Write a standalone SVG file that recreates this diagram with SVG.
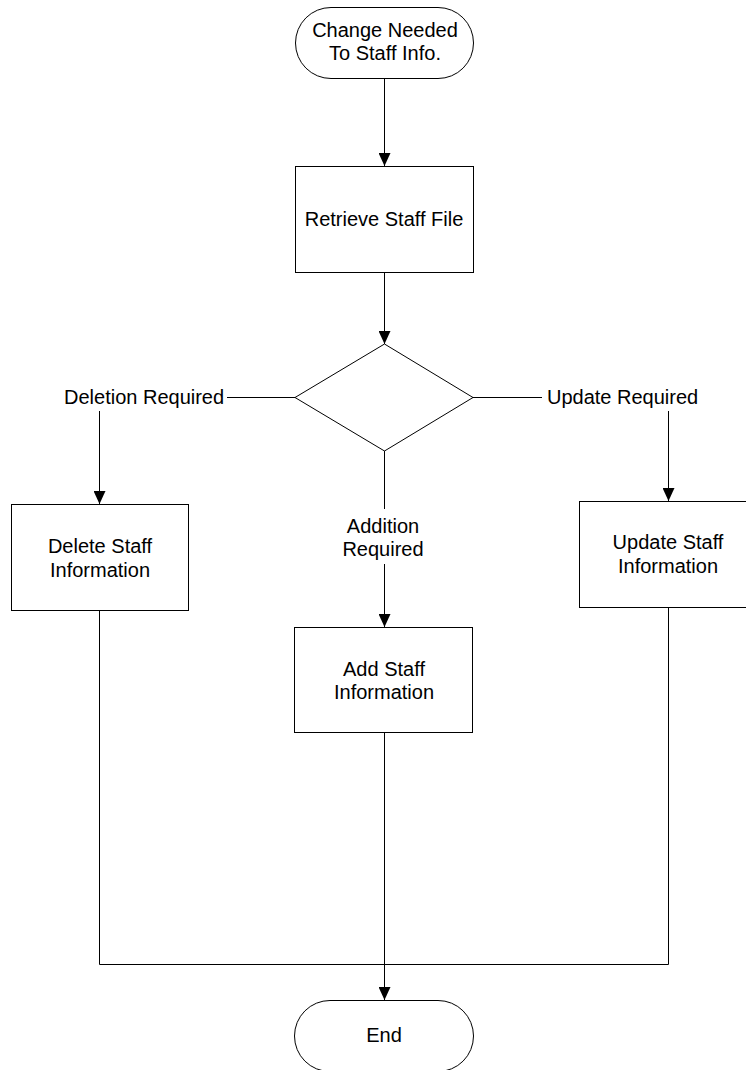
<svg xmlns="http://www.w3.org/2000/svg" width="746" height="1070" viewBox="0 0 746 1070">
  <style>
    .shape { fill: #ffffff; stroke: #000000; stroke-width: 1; }
    .line { fill: none; stroke: #000000; stroke-width: 1; }
    .label { font-family: "Liberation Sans", Arial, sans-serif; font-size: 20px; fill: #000000; text-anchor: middle; }
    .side { font-family: "Liberation Sans", Arial, sans-serif; font-size: 20px; fill: #000000; }
  </style>
  <defs>
    <!-- solid triangular arrowhead, tip at the end of the line -->
    <marker id="arrow" viewBox="0 0 13 12" refX="13" refY="6" markerWidth="13" markerHeight="12" markerUnits="userSpaceOnUse" orient="auto">
      <path d="M0,0 L13,6 L0,12 Z" fill="#000000"/>
    </marker>
  </defs>
  <rect width="746" height="1070" fill="#ffffff"/>

  <!-- connectors and branch labels -->
  <g id="connectors">
    <path class="line" d="M384.5,78 V166" marker-end="url(#arrow)"/>
    <path class="line" d="M384.5,272 V344" marker-end="url(#arrow)"/>
    <path class="line" d="M295,397.5 H227"/>
    <path class="line" d="M99.5,411 V504" marker-end="url(#arrow)"/>
    <path class="line" d="M472,397.5 H542"/>
    <path class="line" d="M668.5,411 V501" marker-end="url(#arrow)"/>
    <path class="line" d="M384.5,450 V509"/>
    <path class="line" d="M384.5,564 V627" marker-end="url(#arrow)"/>
    <path class="line" d="M99.5,610 V964.5 H668.5 V607"/>
    <path class="line" d="M384.5,732 V1000" marker-end="url(#arrow)"/>
    <text class="side" x="64" y="404">Deletion Required</text>
    <text class="side" x="547" y="404">Update Required</text>
    <text class="label" x="383" y="533">Addition</text>
    <text class="label" x="383" y="556">Required</text>
  </g>

  <g id="start">
    <rect class="shape" x="295.5" y="7.5" width="178" height="71" rx="35.5" ry="35.5"/>
    <text class="label" x="385" y="37">Change Needed</text>
    <text class="label" x="385" y="60">To Staff Info.</text>
  </g>

  <g id="retrieve">
    <rect class="shape" x="295.5" y="166.5" width="178" height="106"/>
    <text class="label" x="384" y="226">Retrieve Staff File</text>
  </g>

  <g id="decision">
    <polygon class="shape" points="384.5,344 473,397.5 384.5,451 295,397.5"/>
  </g>

  <g id="delete">
    <rect class="shape" x="11.5" y="504.5" width="177" height="106"/>
    <text class="label" x="100" y="553">Delete Staff</text>
    <text class="label" x="100" y="577">Information</text>
  </g>

  <g id="update">
    <rect class="shape" x="579.5" y="501.5" width="177" height="106"/>
    <text class="label" x="668" y="549">Update Staff</text>
    <text class="label" x="668" y="573">Information</text>
  </g>

  <g id="add">
    <rect class="shape" x="294.5" y="627.5" width="178" height="105"/>
    <text class="label" x="384" y="676">Add Staff</text>
    <text class="label" x="384" y="699">Information</text>
  </g>

  <g id="end">
    <rect class="shape" x="294.5" y="1000.5" width="179" height="71" rx="35.5" ry="35.5"/>
    <text class="label" x="384" y="1042">End</text>
  </g>
</svg>
